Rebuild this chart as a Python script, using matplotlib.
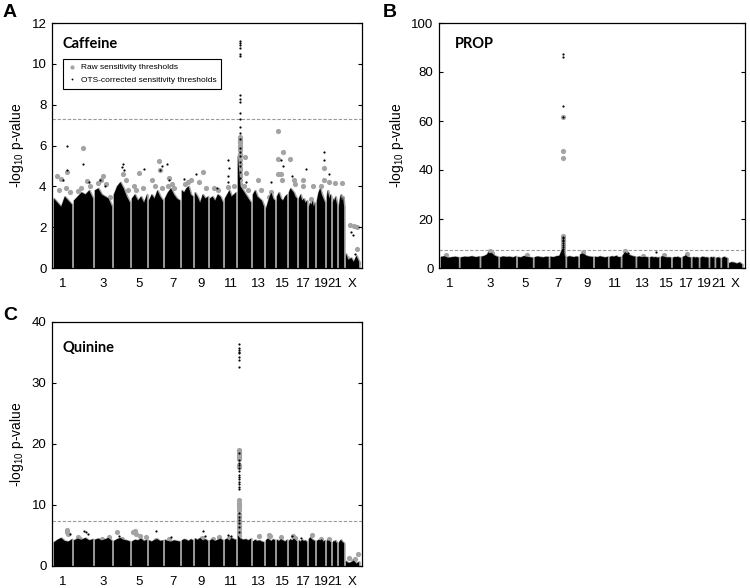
import numpy as np
import matplotlib
matplotlib.use("Agg")
import matplotlib.pyplot as plt
from matplotlib.lines import Line2D

plt.rcParams["font.family"] = ["Liberation Sans", "DejaVu Sans"]
plt.rcParams["mathtext.default"] = "regular"

# ---------------------------
# data
# ---------------------------
chrom_labels = [str(i) for i in range(1, 23)] + ["X"]
# plotted width of each chromosome (SNP index units)
chrom_width = [20, 21, 19, 18, 17, 16, 17, 13, 15, 15, 13, 15, 13, 11, 12, 10, 10, 8, 10, 6, 6, 7, 15]
shown_ticks = ["1", "3", "5", "7", "9", "11", "13", "15", "17", "19", "21", "X"]

# upper edge of the dense bulk of SNPs, 6 samples along each chromosome
caffeine_bulk = [
    [3.4, 3.2, 3.0, 3.5, 3.3, 3.1], [3.3, 3.5, 3.7, 3.6, 3.8, 3.4], [3.8, 3.9, 3.6, 3.5, 3.4, 3.0],
    [3.6, 4.0, 4.2, 3.9, 3.5, 3.2], [3.4, 3.6, 3.3, 3.5, 3.2, 3.6], [3.3, 3.6, 3.4, 3.8, 3.5, 3.3],
    [3.4, 3.7, 3.9, 3.6, 3.4, 3.3], [3.8, 3.7, 3.9, 4.0, 3.6, 3.5], [3.7, 3.5, 3.2, 3.6, 3.4, 3.5],
    [3.4, 3.5, 3.3, 3.6, 3.5, 3.2], [3.4, 3.6, 3.8, 3.5, 3.6, 3.7], [5.5, 4.0, 3.8, 3.6, 3.4, 3.2],
    [3.6, 3.8, 3.5, 3.4, 3.3, 3.0], [2.9, 3.2, 3.5, 3.7, 3.4, 3.3], [3.5, 3.7, 3.4, 3.3, 3.5, 3.6],
    [3.7, 3.9, 3.8, 3.7, 3.5, 3.4], [3.4, 3.6, 3.3, 3.4, 3.2, 3.3], [3.0, 3.2, 3.1, 3.3, 3.0, 3.2],
    [3.3, 3.7, 3.9, 3.6, 3.4, 3.2], [3.5, 3.8, 3.6, 3.4, 3.6, 3.5], [3.2, 3.4, 3.3, 3.5, 3.3, 3.1],
    [3.0, 3.4, 3.6, 3.3, 3.5, 3.0], [0.7, 0.4, 0.5, 0.3, 0.6, 0.3],
]
prop_bulk = [
    [4.5, 4.8, 4.2, 4.4, 4.6, 4.3], [4.3, 4.6, 4.5, 4.8, 4.4, 4.7], [4.6, 5.0, 5.8, 6.2, 5.0, 4.5],
    [4.4, 4.7, 4.5, 4.6, 4.3, 4.8], [4.5, 4.3, 4.9, 4.6, 4.4, 4.2], [4.4, 4.7, 4.5, 4.3, 4.6, 4.5],
    [4.6, 4.4, 4.8, 5.0, 8.0, 4.5], [4.5, 4.8, 4.6, 4.4, 4.7, 4.5], [5.5, 6.0, 5.2, 4.8, 4.6, 4.5],
    [4.6, 4.4, 4.8, 4.5, 4.3, 4.6], [4.5, 4.8, 4.6, 5.0, 4.4, 4.5], [5.0, 6.5, 5.8, 5.2, 4.8, 4.6],
    [4.5, 4.7, 4.4, 4.6, 4.5, 4.3], [4.4, 4.6, 4.3, 4.5, 4.2, 4.4], [4.6, 4.8, 4.5, 4.3, 4.4, 4.2],
    [4.2, 4.5, 4.4, 4.6, 4.3, 4.1], [4.5, 4.8, 5.2, 4.6, 4.4, 4.3], [4.3, 4.5, 4.2, 4.4, 4.3, 4.2],
    [4.2, 4.6, 4.5, 4.3, 4.4, 4.1], [4.3, 4.5, 4.4, 4.2, 4.5, 4.3], [4.0, 4.3, 4.2, 4.4, 4.1, 4.0],
    [4.1, 4.4, 4.6, 4.3, 4.2, 4.0], [2.0, 2.4, 2.2, 1.8, 2.3, 1.5],
]
quinine_bulk = [
    [3.9, 4.3, 4.6, 4.1, 4.0, 4.4], [4.2, 4.5, 4.3, 4.6, 4.2, 4.4], [4.3, 4.5, 4.2, 4.4, 4.6, 4.1],
    [4.1, 4.4, 4.6, 4.3, 4.2, 4.0], [4.0, 4.3, 4.2, 4.5, 4.1, 4.3], [4.2, 4.0, 4.3, 4.4, 4.1, 4.2],
    [4.3, 4.1, 4.0, 4.2, 4.1, 4.0], [4.2, 4.4, 4.3, 4.1, 4.4, 4.2], [4.5, 4.3, 4.6, 4.2, 4.4, 4.1],
    [4.2, 4.4, 4.1, 4.3, 4.5, 4.2], [4.3, 4.5, 4.2, 4.6, 4.4, 4.3], [5.0, 4.5, 4.3, 4.4, 4.2, 4.5],
    [4.0, 4.3, 4.1, 4.2, 4.0, 3.9], [4.2, 4.5, 4.3, 4.1, 4.4, 4.2], [4.3, 4.1, 4.4, 4.2, 4.0, 4.3],
    [4.1, 4.4, 4.2, 4.5, 4.3, 4.0], [4.2, 4.0, 4.3, 4.1, 4.2, 3.9], [4.4, 4.7, 4.5, 4.3, 4.2, 4.1],
    [4.1, 4.3, 4.2, 4.4, 4.0, 4.2], [4.0, 4.3, 4.1, 4.2, 4.0, 3.9], [3.9, 4.1, 4.0, 4.2, 3.8, 3.9],
    [3.8, 4.1, 4.3, 4.0, 3.9, 3.7], [0.8, 0.5, 0.6, 0.9, 0.4, 0.7],
]

# isolated SNPs above the bulk: (chromosome, relative position, -log10 p); X = 23
caffeine_raw = [
    (1, 0.15, 4.5), (1, 0.4, 4.35), (1, 0.65, 3.9), (1, 0.72, 4.7), (1, 0.9, 3.7), (1, 0.3, 3.8),
    (2, 0.45, 5.9), (2, 0.7, 4.25), (2, 0.2, 3.75), (2, 0.35, 3.9), (2, 0.85, 4.0),
    (3, 0.45, 4.5), (3, 0.2, 4.15), (3, 0.65, 4.1), (3, 0.85, 3.5), (3, 0.35, 4.3),
    (4, 0.55, 4.6), (4, 0.75, 4.3), (4, 0.9, 3.8), (4, 0.35, 3.9),
    (5, 0.45, 4.65), (5, 0.15, 4.0), (5, 0.3, 3.8), (5, 0.75, 3.9),
    (6, 0.7, 5.25), (6, 0.8, 4.8), (6, 0.2, 4.3), (6, 0.45, 4.0), (6, 0.9, 3.9),
    (7, 0.3, 4.4), (7, 0.2, 4.0), (7, 0.6, 3.9), (7, 0.45, 4.1),
    (8, 0.8, 4.3), (8, 0.5, 4.2), (8, 0.3, 4.1),
    (9, 0.6, 4.7), (9, 0.3, 4.2), (9, 0.85, 3.9),
    (10, 0.3, 3.9), (10, 0.6, 3.8), (11, 0.3, 3.95), (11, 0.8, 4.0),
    (12, 0.15, 6.4), (12, 0.15, 6.3), (12, 0.15, 6.2), (12, 0.15, 6.1), (12, 0.15, 6.0),
    (12, 0.15, 5.9), (12, 0.15, 5.8), (12, 0.15, 5.6), (12, 0.15, 5.5), (12, 0.15, 5.3),
    (12, 0.15, 5.1), (12, 0.15, 4.9), (12, 0.15, 4.8), (12, 0.15, 4.6), (12, 0.15, 4.5),
    (12, 0.15, 4.3), (12, 0.15, 4.1),
    (12, 0.55, 5.45), (12, 0.65, 4.65), (12, 0.45, 4.0), (12, 0.8, 3.8),
    (13, 0.45, 4.3), (13, 0.7, 3.8), (14, 0.6, 3.7), (14, 0.3, 3.5),
    (15, 0.15, 6.7), (15, 0.15, 5.35), (15, 0.55, 5.7), (15, 0.15, 4.6), (15, 0.45, 4.6), (15, 0.5, 4.3),
    (16, 0.1, 5.35), (16, 0.6, 4.3), (16, 0.8, 4.1), (17, 0.5, 4.3), (17, 0.5, 4.0),
    (18, 0.6, 4.0), (18, 0.3, 3.4), (19, 0.9, 4.88), (19, 0.9, 4.3), (19, 0.5, 4.0),
    (20, 0.5, 4.2), (21, 0.5, 4.15), (22, 0.5, 4.15),
    (23, 0.3, 2.1), (23, 0.6, 2.05), (23, 0.85, 2.0), (23, 0.85, 0.95), (23, 0.1, 0.5), (23, 0.9, 0.25),
]
caffeine_ots = [
    (1, 0.72, 6.0), (1, 0.72, 4.8), (1, 0.5, 4.3), (2, 0.45, 5.1), (2, 0.8, 4.2),
    (3, 0.6, 4.0), (3, 0.3, 4.3), (4, 0.55, 5.1), (4, 0.5, 4.95), (4, 0.6, 4.8),
    (5, 0.8, 4.85), (6, 0.8, 4.8), (6, 0.95, 5.0), (7, 0.15, 5.1), (7, 0.3, 4.3),
    (8, 0.2, 4.35), (9, 0.1, 4.6), (10, 0.5, 3.9),
    (11, 0.3, 5.3), (11, 0.35, 4.9), (11, 0.3, 4.5), (11, 0.3, 4.2),
    (12, 0.15, 11.1), (12, 0.15, 11.0), (12, 0.15, 10.9), (12, 0.15, 10.8), (12, 0.15, 10.5),
    (12, 0.15, 10.4), (12, 0.15, 8.45), (12, 0.15, 8.3), (12, 0.15, 8.15), (12, 0.15, 7.6),
    (12, 0.15, 7.3), (12, 0.15, 6.9), (12, 0.15, 6.6), (12, 0.15, 6.3), (12, 0.15, 5.9),
    (12, 0.15, 5.7), (12, 0.15, 5.5), (12, 0.15, 5.2), (12, 0.15, 5.0), (12, 0.15, 4.7),
    (12, 0.15, 4.4), (12, 0.6, 4.2),
    (14, 0.5, 4.2), (15, 0.55, 5.0), (15, 0.4, 5.3), (16, 0.4, 4.5), (17, 0.9, 4.85),
    (19, 0.85, 5.7), (19, 0.85, 5.3), (20, 0.5, 4.6),
    (23, 0.4, 1.75), (23, 0.5, 1.6), (23, 0.3, 0.4), (23, 0.7, 0.7),
]
prop_raw = [
    (7, 0.85, 61.5), (7, 0.85, 47.9), (7, 0.85, 44.9),
    (7, 0.85, 13.0), (7, 0.85, 12.5), (7, 0.85, 12.0), (7, 0.85, 11.5), (7, 0.85, 11.0),
    (7, 0.85, 10.0), (7, 0.85, 9.0), (7, 0.85, 8.0), (7, 0.85, 7.0), (7, 0.85, 6.0),
    (3, 0.5, 6.8), (3, 0.6, 6.2), (9, 0.2, 6.5), (12, 0.2, 6.8), (12, 0.3, 6.3),
    (17, 0.5, 5.8), (1, 0.3, 5.5), (5, 0.6, 5.5), (13, 0.5, 5.0), (15, 0.3, 5.5),
]
prop_ots = [
    (7, 0.85, 87.2), (7, 0.85, 86.0), (7, 0.85, 66.1), (7, 0.85, 61.5),
    (7, 0.85, 12.8), (7, 0.85, 12.2), (7, 0.85, 11.6), (7, 0.85, 11.0), (7, 0.85, 10.2),
    (7, 0.85, 9.5), (7, 0.85, 8.6), (7, 0.85, 7.8), (7, 0.85, 7.0), (7, 0.85, 6.3),
    (14, 0.6, 6.5), (12, 0.4, 6.0), (3, 0.4, 6.0), (9, 0.3, 5.5),
]
quinine_raw = [
    (12, 0.12, 19.0), (12, 0.12, 18.8), (12, 0.12, 18.5), (12, 0.12, 18.2), (12, 0.12, 17.9),
    (12, 0.12, 17.5), (12, 0.12, 16.6), (12, 0.12, 16.3), (12, 0.12, 10.8), (12, 0.12, 10.4),
    (12, 0.12, 10.0), (12, 0.12, 9.6), (12, 0.12, 9.1), (12, 0.12, 8.6), (12, 0.12, 8.2),
    (12, 0.12, 7.8), (12, 0.12, 7.4), (12, 0.12, 7.0), (12, 0.12, 6.6), (12, 0.12, 6.2),
    (12, 0.12, 5.8), (12, 0.12, 5.4), (12, 0.12, 5.0),
    (1, 0.7, 5.9), (1, 0.7, 5.5), (1, 0.75, 5.3), (2, 0.2, 4.8), (2, 0.3, 4.5),
    (3, 0.4, 4.5), (3, 0.8, 4.7), (4, 0.2, 5.5), (4, 0.5, 4.5),
    (5, 0.05, 5.6), (5, 0.2, 5.7), (5, 0.3, 5.3), (5, 0.5, 4.9), (5, 0.9, 4.8),
    (6, 0.5, 4.3), (7, 0.3, 4.4), (9, 0.5, 4.6), (10, 0.2, 4.5), (10, 0.7, 4.7),
    (11, 0.4, 4.6), (13, 0.5, 4.9), (14, 0.3, 5.1), (14, 0.45, 5.0), (15, 0.4, 4.7),
    (16, 0.5, 4.9), (16, 0.7, 4.6), (18, 0.5, 5.1), (19, 0.5, 4.5), (20, 0.5, 4.4),
    (23, 0.2, 1.3), (23, 0.5, 0.9), (23, 0.9, 1.9), (23, 0.7, 1.2),
]
quinine_ots = [
    (12, 0.12, 36.4), (12, 0.12, 35.8), (12, 0.12, 35.4), (12, 0.12, 35.1), (12, 0.12, 34.9),
    (12, 0.12, 34.3), (12, 0.12, 33.8), (12, 0.12, 32.6),
    (12, 0.12, 18.6), (12, 0.12, 17.4), (12, 0.12, 16.9), (12, 0.12, 16.5), (12, 0.12, 16.0),
    (12, 0.12, 15.5), (12, 0.12, 15.0), (12, 0.12, 14.6), (12, 0.12, 14.2), (12, 0.12, 13.8),
    (12, 0.12, 13.4), (12, 0.12, 13.0), (12, 0.12, 12.6), (12, 0.12, 8.7), (12, 0.12, 8.0),
    (12, 0.12, 7.5), (12, 0.12, 7.1), (12, 0.12, 6.4), (12, 0.12, 5.5),
    (2, 0.55, 5.8), (2, 0.65, 5.5), (2, 0.75, 5.3), (1, 0.9, 5.2), (4, 0.3, 5.0),
    (6, 0.5, 5.7), (7, 0.4, 4.8), (9, 0.6, 5.7), (9, 0.8, 5.0), (11, 0.5, 4.9),
    (11, 0.3, 5.1), (16, 0.4, 5.0), (17, 0.3, 4.6), (23, 0.6, 0.5),
]

GW_LINE = 7.3  # genome-wide significance, -log10(5e-8)

# ---------------------------
# drawing
# ---------------------------
GREY = "#a3a3a3"
starts = np.concatenate([[0], np.cumsum(chrom_width)[:-1]])
centers = starts + np.array(chrom_width) / 2.0
PAD = 0.9


def to_x(pts):
    c = np.array([p[0] for p in pts]) - 1
    f = np.array([p[1] for p in pts])
    v = np.array([p[2] for p in pts])
    x = starts[c] + PAD + f * (np.array(chrom_width)[c] - 2 * PAD)
    return x, v


def manhattan(ax, bulk, raw, ots, ymax, step, name, name_xy):
    for i, prof in enumerate(bulk):
        xs = np.linspace(starts[i] + PAD, starts[i] + chrom_width[i] - PAD, len(prof))
        ax.fill_between(xs, 0, prof, facecolor=GREY, edgecolor=GREY, lw=1.6, zorder=1)
        ax.fill_between(xs, 0, prof, facecolor="black", edgecolor="none", zorder=2)
    xr, vr = to_x(raw)
    ax.scatter(xr, vr, s=14, color=GREY, linewidths=0, zorder=1.5)
    xo, vo = to_x(ots)
    ax.scatter(xo, vo, s=2.5, color="black", linewidths=0, zorder=4)
    ax.axhline(GW_LINE, color="#9a9a9a", lw=0.8, ls=(0, (3, 1.6)), zorder=0.8)

    ax.set_xlim(-1, sum(chrom_width) + 2)
    ax.set_ylim(0, ymax)
    ax.set_yticks(np.arange(0, ymax + 0.1, step))
    ax.set_xticks([centers[chrom_labels.index(t)] for t in shown_ticks])
    ax.set_xticklabels(shown_ticks)
    ax.tick_params(axis="y", direction="in", length=3, width=0.8, right=True, labelsize=9.5, pad=4)
    ax.tick_params(axis="x", length=0, labelsize=9.5, pad=7)
    for sp in ax.spines.values():
        sp.set_linewidth(0.9)
    ax.set_ylabel("-log$_{10}$ p-value", fontsize=10, labelpad=4)
    ax.text(name_xy[0], name_xy[1], name, transform=ax.transAxes, fontsize=10.5,
            fontweight="bold", family=["Lato", "DejaVu Sans"], va="baseline")


fig = plt.figure(figsize=(7.5, 5.88), dpi=100)
axA = fig.add_axes([52 / 750, 1 - 268 / 588, 310 / 750, 245 / 588])
axB = fig.add_axes([439 / 750, 1 - 268 / 588, 306 / 750, 245 / 588])
axC = fig.add_axes([52 / 750, 1 - 566 / 588, 310 / 750, 244 / 588])

manhattan(axA, caffeine_bulk, caffeine_raw, caffeine_ots, 12, 2, "Caffeine", (0.035, 0.9))
manhattan(axB, prop_bulk, prop_raw, prop_ots, 100, 20, "PROP", (0.052, 0.9))
manhattan(axC, quinine_bulk, quinine_raw, quinine_ots, 40, 10, "Quinine", (0.035, 0.878))

handles = [
    Line2D([], [], ls="none", marker="o", ms=3, color=GREY, mec="none"),
    Line2D([], [], ls="none", marker="o", ms=1.3, color="black", mec="none"),
]
leg = axA.legend(handles, ["Raw sensitivity thresholds", "OTS-corrected sensitivity thresholds"],
                 loc="upper left", bbox_to_anchor=(0.035, 0.853), borderaxespad=0,
                 fontsize=6.0, frameon=True, fancybox=False, framealpha=1,
                 edgecolor="black", handlelength=1.0, handletextpad=0.6,
                 labelspacing=0.6, borderpad=0.55)
leg.get_frame().set_linewidth(0.8)

for letter, x, y in [("A", 0.004, 0.971), ("B", 0.511, 0.971), ("C", 0.004, 0.456)]:
    fig.text(x, y, letter, fontsize=14, fontweight="bold", va="baseline")

fig.savefig("out.png", dpi=100)
